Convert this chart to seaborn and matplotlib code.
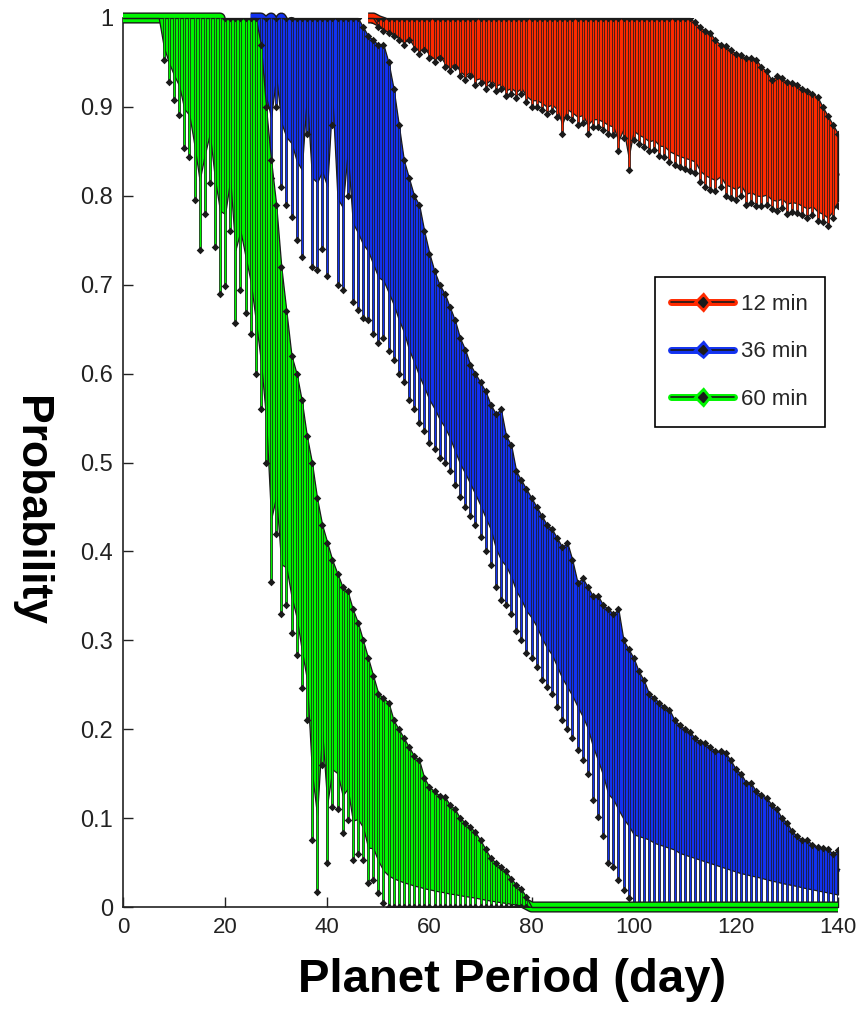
import numpy as np
import matplotlib
matplotlib.use("Agg")
import matplotlib.pyplot as plt
import seaborn as sns
from matplotlib import patheffects as pe
from matplotlib.lines import Line2D

# ---------------- data ----------------
series_labels = ["12 min", "36 min", "60 min"]
x_ticks = [0, 20, 40, 60, 80, 100, 120, 140]
y_ticks = [0, 0.1, 0.2, 0.3, 0.4, 0.5, 0.6, 0.7, 0.8, 0.9, 1]
y_tick_labels = ["0", "0.1", "0.2", "0.3", "0.4", "0.5", "0.6", "0.7", "0.8", "0.9", "1"]

# 12 min (red) : days 48..140
red_start = 48
red_mean = [1.0, 1.0, 0.997, 0.995, 0.992, 0.99, 0.988, 0.985, 0.987, 0.982,
            0.98, 0.981, 0.978, 0.975, 0.977, 0.972, 0.97, 0.972, 0.968, 0.965,
            0.967, 0.962, 0.963, 0.96, 0.962, 0.959, 0.96, 0.956, 0.957, 0.955,
            0.957, 0.952, 0.95, 0.95, 0.948, 0.946, 0.947, 0.944, 0.94, 0.944,
            0.942, 0.94, 0.941, 0.937, 0.938, 0.938, 0.937, 0.935, 0.934, 0.93,
            0.932, 0.925, 0.931, 0.929, 0.927, 0.925, 0.926, 0.922, 0.922, 0.919,
            0.917, 0.916, 0.915, 0.914, 0.91, 0.903, 0.898, 0.895, 0.89, 0.89,
            0.884, 0.881, 0.878, 0.879, 0.872, 0.873, 0.87, 0.866, 0.865, 0.857,
            0.859, 0.859, 0.854, 0.854, 0.853, 0.849, 0.846, 0.846, 0.841, 0.835,
            0.828, 0.827, 0.829]
red_lo = [1.0, 1.0, 0.99, 0.985, 0.983, 0.98, 0.975, 0.97, 0.975, 0.965,
          0.96, 0.964, 0.955, 0.95, 0.955, 0.945, 0.94, 0.945, 0.935, 0.93,
          0.935, 0.925, 0.927, 0.92, 0.925, 0.918, 0.92, 0.912, 0.915, 0.91,
          0.915, 0.905, 0.9, 0.9, 0.897, 0.892, 0.895, 0.889, 0.87, 0.889,
          0.885, 0.88, 0.882, 0.87, 0.877, 0.877, 0.874, 0.87, 0.868, 0.85,
          0.865, 0.829, 0.863, 0.858, 0.855, 0.85, 0.852, 0.845, 0.844, 0.838,
          0.835, 0.832, 0.83, 0.828, 0.826, 0.815, 0.81, 0.807, 0.805, 0.81,
          0.8, 0.798, 0.795, 0.8, 0.79, 0.792, 0.788, 0.788, 0.79, 0.785,
          0.783, 0.786, 0.78, 0.782, 0.781, 0.778, 0.775, 0.778, 0.772, 0.77,
          0.766, 0.775, 0.788]
red_hi = [1.0, 1.0, 1.0, 1.0, 1.0, 1.0, 1.0, 1.0, 1.0, 1.0,
          1.0, 1.0, 1.0, 1.0, 1.0, 1.0, 1.0, 1.0, 1.0, 1.0,
          1.0, 1.0, 1.0, 1.0, 1.0, 1.0, 1.0, 1.0, 1.0, 1.0,
          1.0, 1.0, 1.0, 1.0, 1.0, 1.0, 1.0, 1.0, 1.0, 1.0,
          1.0, 1.0, 1.0, 1.0, 1.0, 1.0, 1.0, 1.0, 1.0, 1.0,
          1.0, 1.0, 1.0, 1.0, 1.0, 1.0, 1.0, 1.0, 1.0, 1.0,
          1.0, 1.0, 1.0, 1.0, 0.995, 0.99, 0.985, 0.983, 0.975, 0.97,
          0.968, 0.964, 0.96, 0.958, 0.955, 0.955, 0.953, 0.945, 0.94, 0.93,
          0.935, 0.932, 0.928, 0.927, 0.925, 0.92, 0.918, 0.915, 0.911, 0.9,
          0.89, 0.88, 0.87]

# 36 min (blue) : days 25..140
blue_start = 25
blue_mean = [1.0, 1.0, 1.0, 0.995, 1.0, 0.99, 1.0, 0.99, 0.995, 0.985,
             0.99, 0.98, 0.985, 0.975, 0.97, 0.975, 0.96, 0.955, 0.94, 0.93,
             0.915, 0.9, 0.88, 0.865, 0.85, 0.83, 0.81, 0.8, 0.78, 0.76,
             0.74, 0.72, 0.7, 0.685, 0.665, 0.65, 0.635, 0.62, 0.605, 0.59,
             0.575, 0.56, 0.55, 0.535, 0.52, 0.51, 0.5, 0.49, 0.475, 0.465,
             0.455, 0.44, 0.43, 0.42, 0.41, 0.4, 0.39, 0.38, 0.365, 0.355,
             0.345, 0.335, 0.325, 0.315, 0.305, 0.295, 0.285, 0.28, 0.27, 0.26,
             0.255, 0.245, 0.24, 0.23, 0.225, 0.215, 0.21, 0.205, 0.2, 0.19,
             0.185, 0.18, 0.175, 0.17, 0.16, 0.155, 0.15, 0.145, 0.14, 0.135,
             0.13, 0.125, 0.12, 0.115, 0.11, 0.105, 0.1, 0.097, 0.093, 0.09,
             0.086, 0.082, 0.078, 0.075, 0.071, 0.068, 0.065, 0.062, 0.058, 0.055,
             0.052, 0.049, 0.046, 0.043, 0.04, 0.037]
blue_lo = [1.0, 0.97, 0.93, 0.86, 0.82, 0.9, 0.81, 0.79, 0.776, 0.75,
           0.731, 0.87, 0.72, 0.717, 0.74, 0.71, 0.88, 0.7, 0.694, 0.8,
           0.68, 0.672, 0.663, 0.66, 0.645, 0.634, 0.64, 0.625, 0.615, 0.6,
           0.59, 0.57, 0.56, 0.544, 0.535, 0.522, 0.515, 0.505, 0.5, 0.49,
           0.475, 0.461, 0.45, 0.44, 0.43, 0.416, 0.4, 0.385, 0.36, 0.345,
           0.34, 0.33, 0.31, 0.3, 0.286, 0.28, 0.27, 0.255, 0.247, 0.24,
           0.225, 0.21, 0.2, 0.19, 0.177, 0.165, 0.15, 0.12, 0.101, 0.08,
           0.049, 0.045, 0.03, 0.019, 0.01, 0.0, 0.0, 0.0, 0.0, 0.0,
           0.0, 0.0, 0.0, 0.0, 0.0, 0.0, 0.0, 0.0, 0.0, 0.0,
           0.0, 0.0, 0.0, 0.0, 0.0, 0.0, 0.0, 0.0, 0.0, 0.0,
           0.0, 0.0, 0.0, 0.0, 0.0, 0.0, 0.0, 0.0, 0.0, 0.0,
           0.0, 0.0, 0.0, 0.0, 0.0, 0.0]
blue_hi = [1.0, 1.0, 1.0, 1.0, 1.0, 1.0, 1.0, 1.0, 1.0, 1.0,
           1.0, 1.0, 1.0, 1.0, 1.0, 1.0, 1.0, 1.0, 1.0, 1.0,
           1.0, 1.0, 0.99, 0.98, 0.975, 0.97, 0.97, 0.95, 0.92, 0.88,
           0.84, 0.82, 0.8, 0.79, 0.76, 0.735, 0.715, 0.7, 0.69, 0.675,
           0.66, 0.64, 0.627, 0.61, 0.6, 0.59, 0.58, 0.565, 0.555, 0.56,
           0.53, 0.52, 0.49, 0.48, 0.47, 0.46, 0.45, 0.44, 0.43, 0.425,
           0.415, 0.405, 0.41, 0.39, 0.365, 0.37, 0.36, 0.35, 0.35, 0.34,
           0.335, 0.33, 0.335, 0.3, 0.29, 0.28, 0.265, 0.255, 0.24, 0.235,
           0.23, 0.225, 0.222, 0.21, 0.205, 0.2, 0.197, 0.19, 0.186, 0.184,
           0.18, 0.175, 0.175, 0.173, 0.165, 0.155, 0.15, 0.14, 0.139, 0.13,
           0.126, 0.123, 0.115, 0.11, 0.1, 0.095, 0.085, 0.08, 0.075, 0.075,
           0.07, 0.068, 0.066, 0.065, 0.06, 0.064]

# 60 min (green) : days 0..140
green_start = 0
green_mean = [1.0, 1.0, 1.0, 1.0, 1.0, 1.0, 1.0, 1.0, 1.0, 1.0,
              1.0, 1.0, 1.0, 1.0, 1.0, 1.0, 1.0, 1.0, 1.0, 1.0,
              0.97, 0.955, 0.93, 0.915, 0.88, 0.84, 0.8, 0.74, 0.67, 0.6,
              0.56, 0.515, 0.48, 0.445, 0.425, 0.39, 0.365, 0.33, 0.305, 0.285,
              0.27, 0.255, 0.245, 0.225, 0.215, 0.2, 0.19, 0.175, 0.16, 0.15,
              0.135, 0.125, 0.118, 0.107, 0.1, 0.092, 0.087, 0.08, 0.076, 0.07,
              0.066, 0.062, 0.058, 0.055, 0.05, 0.048, 0.044, 0.041, 0.038, 0.035,
              0.031, 0.027, 0.024, 0.021, 0.018, 0.015, 0.012, 0.009, 0.006, 0.003,
              0.0, 0.0, 0.0, 0.0, 0.0, 0.0, 0.0, 0.0, 0.0, 0.0,
              0.0, 0.0, 0.0, 0.0, 0.0, 0.0, 0.0, 0.0, 0.0, 0.0,
              0.0, 0.0, 0.0, 0.0, 0.0, 0.0, 0.0, 0.0, 0.0, 0.0,
              0.0, 0.0, 0.0, 0.0, 0.0, 0.0, 0.0, 0.0, 0.0, 0.0,
              0.0, 0.0, 0.0, 0.0, 0.0, 0.0, 0.0, 0.0, 0.0, 0.0,
              0.0, 0.0, 0.0, 0.0, 0.0, 0.0, 0.0, 0.0, 0.0, 0.0,
              0.0]
green_lo = [1.0, 1.0, 1.0, 1.0, 1.0, 1.0, 1.0, 1.0, 0.953, 0.928,
            0.908, 0.891, 0.854, 0.844, 0.795, 0.739, 0.78, 0.814, 0.742, 0.69,
            0.698, 0.76, 0.657, 0.694, 0.668, 0.645, 0.6, 0.56, 0.5, 0.366,
            0.42, 0.33, 0.34, 0.308, 0.283, 0.246, 0.21, 0.075, 0.017, 0.16,
            0.05, 0.112, 0.11, 0.083, 0.098, 0.053, 0.06, 0.053, 0.027, 0.03,
            0.016, 0.005, 0.0, 0.0, 0.0, 0.0, 0.0, 0.0, 0.0, 0.0,
            0.0, 0.0, 0.0, 0.0, 0.0, 0.0, 0.0, 0.0, 0.0, 0.0,
            0.0, 0.0, 0.0, 0.0, 0.0, 0.0, 0.0, 0.0, 0.0, 0.0,
            0.0, 0.0, 0.0, 0.0, 0.0, 0.0, 0.0, 0.0, 0.0, 0.0,
            0.0, 0.0, 0.0, 0.0, 0.0, 0.0, 0.0, 0.0, 0.0, 0.0,
            0.0, 0.0, 0.0, 0.0, 0.0, 0.0, 0.0, 0.0, 0.0, 0.0,
            0.0, 0.0, 0.0, 0.0, 0.0, 0.0, 0.0, 0.0, 0.0, 0.0,
            0.0, 0.0, 0.0, 0.0, 0.0, 0.0, 0.0, 0.0, 0.0, 0.0,
            0.0, 0.0, 0.0, 0.0, 0.0, 0.0, 0.0, 0.0, 0.0, 0.0,
            0.0]
green_hi = [1.0, 1.0, 1.0, 1.0, 1.0, 1.0, 1.0, 1.0, 1.0, 1.0,
            1.0, 1.0, 1.0, 1.0, 1.0, 1.0, 1.0, 1.0, 1.0, 1.0,
            1.0, 1.0, 1.0, 1.0, 1.0, 1.0, 1.0, 0.97, 0.9, 0.84,
            0.79, 0.72, 0.67, 0.62, 0.6, 0.57, 0.53, 0.5, 0.46, 0.43,
            0.41, 0.39, 0.375, 0.36, 0.355, 0.335, 0.32, 0.3, 0.28, 0.26,
            0.24, 0.235, 0.23, 0.21, 0.2, 0.19, 0.18, 0.17, 0.165, 0.145,
            0.135, 0.13, 0.125, 0.124, 0.115, 0.11, 0.1, 0.095, 0.09, 0.084,
            0.075, 0.065, 0.055, 0.05, 0.045, 0.04, 0.032, 0.025, 0.02, 0.011,
            0.0, 0.0, 0.0, 0.0, 0.0, 0.0, 0.0, 0.0, 0.0, 0.0,
            0.0, 0.0, 0.0, 0.0, 0.0, 0.0, 0.0, 0.0, 0.0, 0.0,
            0.0, 0.0, 0.0, 0.0, 0.0, 0.0, 0.0, 0.0, 0.0, 0.0,
            0.0, 0.0, 0.0, 0.0, 0.0, 0.0, 0.0, 0.0, 0.0, 0.0,
            0.0, 0.0, 0.0, 0.0, 0.0, 0.0, 0.0, 0.0, 0.0, 0.0,
            0.0, 0.0, 0.0, 0.0, 0.0, 0.0, 0.0, 0.0, 0.0, 0.0,
            0.0]

# ---------------- style ----------------
sns.set_theme(style="ticks")
plt.rcParams["font.family"] = ["Liberation Sans", "DejaVu Sans"]

RED, BLUE, GREEN = "#ff2a00", "#1232f0", "#00f500"

fig = plt.figure(figsize=(8.57, 10.18), dpi=100)
ax = fig.add_axes([123 / 857, 111 / 1018, 715 / 857, 889 / 1018])


def draw(start, mean, lo, hi, color, frac, z):
    m = np.asarray(mean, float)
    l = np.asarray(lo, float)
    h = np.asarray(hi, float)
    assert len(m) == len(l) == len(h), (len(m), len(l), len(h))
    x = start + np.arange(len(m), dtype=float)
    # mean line: thick colour with dark rim
    sns.lineplot(x=x, y=m, color=color, lw=6, ax=ax, zorder=z, legend=False,
                 clip_on=False, solid_capstyle="butt",
                 path_effects=[pe.Stroke(linewidth=8, foreground="k"), pe.Normal()])
    # dense coloured core made by the overlapping bars
    ax.fill_between(x, m - frac * (m - l), h, facecolor=color, edgecolor="k",
                    lw=0.9, zorder=z + 0.1, clip_on=False)
    # error bars: coloured with thin dark rims
    has = (m - l > 1e-9) | (h - m > 1e-9)
    ax.vlines(x[has], l[has], h[has], colors=color, lw=1.0, zorder=z + 0.2,
              path_effects=[pe.Stroke(linewidth=2.0, foreground="k"), pe.Normal()])
    dn = m - l > 1e-9
    up = h - m > 1e-9
    ax.scatter(x[dn], l[dn], marker="D", s=15, color="k", zorder=z + 0.3, lw=0)
    ax.scatter(x[up], h[up], marker="D", s=15, color="k", zorder=z + 0.3, lw=0)


draw(red_start, red_mean, red_lo, red_hi, RED, 0.85, 2)
draw(blue_start, blue_mean, blue_lo, blue_hi, BLUE, 0.62, 3)
draw(green_start, green_mean, green_lo, green_hi, GREEN, 0.7, 4)

ax.set_xlim(0, 140)
ax.set_ylim(0, 1)
ax.set_xticks(x_ticks)
ax.set_xticklabels([str(v) for v in x_ticks])
ax.set_yticks(y_ticks)
ax.set_yticklabels(y_tick_labels)
ax.tick_params(direction="in", length=7, width=1, colors="#222222", pad=7)
ax.tick_params(axis="x", labelsize=16)
ax.tick_params(axis="y", labelsize=17)
sns.despine(ax=ax)
for s in ("left", "bottom"):
    ax.spines[s].set_color("#222222")
    ax.spines[s].set_linewidth(1.2)
    ax.spines[s].set_zorder(1)

ax.set_xlabel("Planet Period (day)", fontsize=34, fontweight="bold",
              va="center", color="black")
ax.xaxis.set_label_coords((512 - 123) / 715, -(980 - 907) / 889)
ax.set_ylabel("Probability", fontsize=32, fontweight="bold", rotation=270,
              va="center", ha="center", color="black")
ax.yaxis.set_label_coords(-(123 - 30) / 715, (907 - 511) / 889)

handles = [Line2D([], [], color="k", lw=1.2, marker="D", ms=5,
                  path_effects=[pe.Stroke(linewidth=5, foreground=c), pe.Normal()])
           for c in (RED, BLUE, GREEN)]
leg = ax.legend(handles, series_labels, loc="upper right",
                bbox_to_anchor=((825 - 123) / 715, (907 - 277) / 889),
                borderaxespad=0, fontsize=16, handlelength=2.8, frameon=True,
                fancybox=False, framealpha=1, edgecolor="black", borderpad=0.75,
                labelspacing=1.2, handletextpad=0.35)
leg.get_frame().set_linewidth(1.2)
leg.set_zorder(10)

fig.savefig("out.png", dpi=100)
